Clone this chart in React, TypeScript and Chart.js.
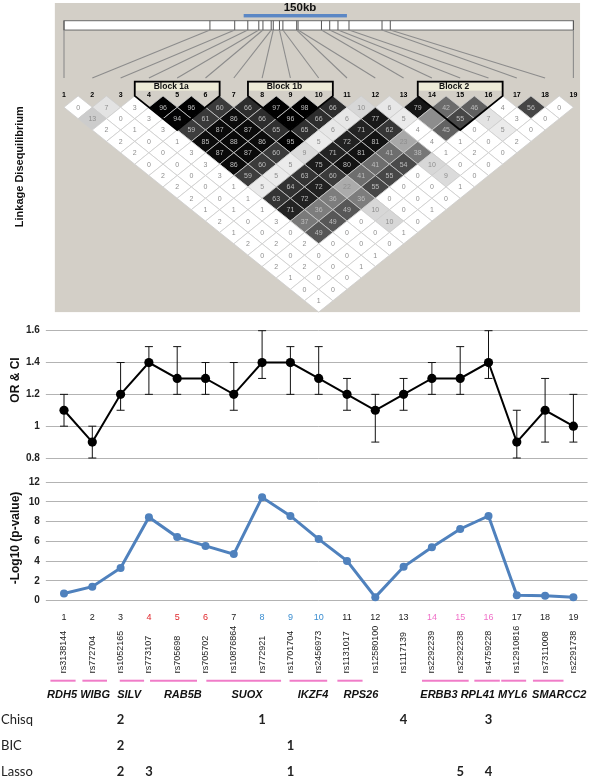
import React, { useEffect, useRef } from "react";
import { Chart, registerables } from "chart.js";
Chart.register(...registerables);

// ---------------- data ----------------
const snpLabels = ["1", "2", "3", "4", "5", "6", "7", "8", "9", "10", "11", "12", "13", "14", "15", "16", "17", "18", "19"];
const rsIds = ["rs3138144", "rs772704", "rs1052165", "rs773107", "rs705698", "rs705702", "rs10876864", "rs772921", "rs1701704", "rs2456973", "rs1131017", "rs12580100", "rs1117139", "rs2292239", "rs2292238", "rs4759228", "rs12910816", "rs7311008", "rs2291738"];

// physical marker positions (kb from SNP 1)
const markerKb = [0, 212, 248, 267, 283, 289, 301, 304, 313, 318, 338, 340, 374, 386, 398, 414, 462, 474, 740];
const scaleBarKb = [261, 411];
const scaleBarLabel = "150kb";

// LD values (r² x 100), one array per marker distance
const ldDist1 = [0, 7, 3, 96, 96, 60, 66, 97, 98, 66, 10, 6, 79, 42, 46, 4, 56, 0];
const ldDist2 = [13, 0, 3, 94, 61, 86, 66, 96, 66, 6, 77, 5, 31, 55, 7, 3, 0];
const ldDist3 = [2, 1, 3, 59, 87, 87, 65, 65, 6, 71, 62, 4, 45, 0, 5, 0];
const ldDist4 = [2, 0, 1, 85, 88, 86, 95, 5, 72, 81, 23, 4, 1, 0, 2];
const ldDist5 = [2, 0, 3, 87, 87, 60, 9, 71, 81, 41, 38, 1, 2, 0];
const ldDist6 = [0, 0, 3, 86, 60, 5, 75, 80, 41, 54, 10, 0, 0];
const ldDist7 = [2, 0, 3, 59, 5, 63, 60, 41, 55, 0, 9, 0];
const ldDist8 = [2, 0, 1, 5, 64, 72, 22, 55, 0, 0, 1];
const ldDist9 = [2, 0, 1, 63, 72, 36, 36, 0, 0, 0];
const ldDist10 = [1, 1, 1, 71, 36, 49, 10, 0, 1];
const ldDist11 = [2, 0, 3, 37, 49, 0, 10, 0];
const ldDist12 = [1, 0, 0, 49, 0, 0, 1];
const ldDist13 = [2, 2, 2, 0, 0, 0];
const ldDist14 = [0, 0, 0, 0, 1];
const ldDist15 = [2, 2, 0, 1];
const ldDist16 = [1, 0, 0];
const ldDist17 = [0, 0];
const ldDist18 = [1];
const ldRows = [ldDist1, ldDist2, ldDist3, ldDist4, ldDist5, ldDist6, ldDist7, ldDist8, ldDist9, ldDist10, ldDist11, ldDist12, ldDist13, ldDist14, ldDist15, ldDist16, ldDist17, ldDist18];

const blockNames = ["Block 1a", "Block 1b", "Block 2"];
const blockFirst = [4, 8, 14];
const blockLast = [6, 10, 16];

const orValues = [1.1, 0.9, 1.2, 1.4, 1.3, 1.3, 1.2, 1.4, 1.4, 1.3, 1.2, 1.1, 1.2, 1.3, 1.3, 1.4, 0.9, 1.1, 1.0];
const ciLower = [1.0, 0.8, 1.1, 1.2, 1.2, 1.2, 1.1, 1.3, 1.2, 1.2, 1.1, 0.9, 1.1, 1.2, 1.2, 1.3, 0.8, 0.9, 0.9];
const ciUpper = [1.2, 1.0, 1.4, 1.5, 1.5, 1.4, 1.4, 1.6, 1.5, 1.5, 1.3, 1.2, 1.3, 1.4, 1.5, 1.6, 1.1, 1.3, 1.2];

const negLog10P = [0.73, 1.42, 3.3, 8.44, 6.43, 5.54, 4.71, 10.45, 8.57, 6.23, 4.02, 0.36, 3.43, 5.41, 7.25, 8.57, 0.56, 0.49, 0.36];

const geneNames = ["RDH5", "WIBG", "SILV", "RAB5B", "SUOX", "IKZF4", "RPS26", "ERBB3", "RPL41", "MYL6", "SMARCC2"];
const geneFrom = [0.52, 1.65, 2.97, 4.04, 6.03, 8.97, 10.66, 13.65, 15.5, 16.45, 17.57];
const geneTo = [1.41, 2.52, 3.83, 5.7, 8.67, 10.3, 11.55, 15.3, 16.4, 17.33, 18.65];
const geneLabelAt = [0.93, 2.1, 3.3, 5.2, 7.47, 9.8, 11.49, 14.25, 15.62, 16.85, 18.5];

const methodNames = ["Chisq", "BIC", "Lasso"];
const chisqRank = [null, null, 2, null, null, null, null, 1, null, null, null, null, 4, null, null, 3, null, null, null];
const bicRank = [null, null, 2, null, null, null, null, null, 1, null, null, null, null, null, null, null, null, null, null];
const lassoRank = [null, null, 2, 3, null, null, null, null, 1, null, null, null, null, null, 5, 4, null, null, null];
const methodRanks = [chisqRank, bicRank, lassoRank];

// ---------------- styles ----------------
const FONT = '"Liberation Sans", Arial, Helvetica, sans-serif';
const TABLE_FONT = 'Lato, "Open Sans", sans-serif';
const blockColors = ["#e0262b", "#3a8dd0", "#f070c8"];
const PLOT_LEFT = 49.85;
const PLOT_RIGHT_PAD = 15.45;

function shadeFor(v: number) {
  if (v <= 4) return 255;
  return Math.round(255 * Math.pow(1 - v / 100, 1.6));
}

function tickColorFor(snp: number) {
  for (let b = 0; b < blockFirst.length; b++) {
    if (snp >= blockFirst[b] && snp <= blockLast[b]) return blockColors[b];
  }
  return "#222";
}

function drawVerticalTitle(ctx: any, text: string, x: number, y: number, size: number) {
  ctx.save();
  ctx.translate(x, y);
  ctx.rotate(-Math.PI / 2);
  ctx.fillStyle = "#111";
  ctx.font = `bold ${size}px ${FONT}`;
  ctx.textAlign = "center";
  ctx.textBaseline = "middle";
  ctx.fillText(text, 0, 0);
  ctx.restore();
}

function makeLD(canvas: HTMLCanvasElement) {
  const cells: any[] = [];
  ldRows.forEach((row, di) => {
    const d = di + 1;
    row.forEach((v, k) => {
      const i = k + 1;
      cells.push({ x: (i + i + d) / 2, y: d, v });
    });
  });
  const kbToSnp = (kb: number) => 1 + (kb / markerKb[markerKb.length - 1]) * (snpLabels.length - 1);

  const decor = {
    id: "ldDecor",
    beforeDatasetsDraw(chart: any) {
      const { ctx, chartArea: a, scales } = chart;
      const x = scales.x, y = scales.y;
      const px = (v: number) => x.getPixelForValue(v);
      const py = (v: number) => y.getPixelForValue(v);
      ctx.save();
      ctx.fillStyle = "#d3cfc7";
      ctx.fillRect(a.left + 5, 3, a.right - a.left - 12.5, a.bottom - 3);
      ctx.fillStyle = "#5b87c5";
      const sb0 = px(kbToSnp(scaleBarKb[0])), sb1 = px(kbToSnp(scaleBarKb[1]));
      ctx.fillRect(sb0, py(-7.05) - 1.7, sb1 - sb0, 3.4);
      ctx.fillStyle = "#111";
      ctx.font = `bold 11.5px ${FONT}`;
      ctx.textAlign = "center";
      ctx.textBaseline = "middle";
      ctx.fillText(scaleBarLabel, 300, py(-7.73));
      const bx0 = px(kbToSnp(markerKb[0])), bx1 = px(kbToSnp(markerKb[markerKb.length - 1]));
      const bt = py(-6.61), bb = py(-5.79);
      ctx.fillStyle = "#fff";
      ctx.fillRect(bx0, bt, bx1 - bx0, bb - bt);
      ctx.strokeStyle = "#6a6a6a";
      ctx.lineWidth = 1;
      ctx.strokeRect(bx0, bt, bx1 - bx0, bb - bt);
      ctx.strokeStyle = "#555";
      markerKb.forEach((kb) => {
        const mx = px(kbToSnp(kb));
        ctx.beginPath();
        ctx.moveTo(mx, bt);
        ctx.lineTo(mx, bb);
        ctx.stroke();
      });
      ctx.strokeStyle = "#8c8c8c";
      ctx.lineWidth = 1.1;
      markerKb.forEach((kb, i) => {
        ctx.beginPath();
        ctx.moveTo(px(kbToSnp(kb)), bb);
        ctx.lineTo(px(i + 1), py(-1.575));
        ctx.stroke();
      });
      drawVerticalTitle(ctx, "Linkage Disequilibrium", 20, 166.7, 11);
      ctx.restore();
    },
    afterDatasetsDraw(chart: any) {
      const { ctx, scales } = chart;
      const x = scales.x, y = scales.y;
      const px = (v: number) => x.getPixelForValue(v);
      const py = (v: number) => y.getPixelForValue(v);
      const meta = chart.getDatasetMeta(0);
      const raw = chart.data.datasets[0].data;
      const hw = (px(2) - px(1)) / 2;
      const hh = Math.abs(py(2) - py(1));
      ctx.save();
      ctx.textAlign = "center";
      ctx.textBaseline = "middle";
      ctx.font = `7px ${FONT}`;
      meta.data.forEach((el: any, idx: number) => {
        const cx = el.x, cy = el.y;
        const v = raw[idx].v;
        const g = shadeFor(v);
        ctx.beginPath();
        ctx.moveTo(cx, cy - hh);
        ctx.lineTo(cx + hw, cy);
        ctx.lineTo(cx, cy + hh);
        ctx.lineTo(cx - hw, cy);
        ctx.closePath();
        ctx.fillStyle = `rgb(${g},${g},${g})`;
        ctx.fill();
        ctx.strokeStyle = "#cdcdcd";
        ctx.lineWidth = 0.8;
        ctx.stroke();
        ctx.fillStyle = g < 140 ? "#bdbdbd" : "#8e8e8e";
        ctx.fillText(String(v), cx, cy + 0.5);
      });
      blockNames.forEach((name, b) => {
        const s = blockFirst[b], e = blockLast[b];
        const left = px(s - 0.5), right = px(e + 0.5);
        const top = py(-1.25);
        ctx.fillStyle = "#ecead6";
        ctx.fillRect(left + 1, top + 1, right - left - 2, py(-0.46) - top - 1);
        ctx.beginPath();
        ctx.moveTo(left, top);
        ctx.lineTo(right, top);
        ctx.lineTo(right, py(0));
        ctx.lineTo(px((s + e) / 2), py(e - s + 1));
        ctx.lineTo(left, py(0));
        ctx.closePath();
        ctx.strokeStyle = "#000";
        ctx.lineWidth = 1.8;
        ctx.stroke();
        ctx.fillStyle = "#111";
        ctx.font = `bold 8.5px ${FONT}`;
        ctx.fillText(name, px((s + e) / 2) - 6, py(-0.83));
      });
      ctx.fillStyle = "#000";
      ctx.font = `bold 7px ${FONT}`;
      snpLabels.forEach((lab, i) => ctx.fillText(lab, px(i + 1), py(-0.1)));
      ctx.restore();
    },
  };

  return new Chart(canvas, {
    type: "scatter",
    data: { datasets: [{ data: cells, pointRadius: 0, pointHoverRadius: 0, showLine: false }] },
    options: {
      responsive: false,
      animation: false,
      events: [],
      layout: { padding: { left: PLOT_LEFT, right: PLOT_RIGHT_PAD, top: 4.9, bottom: 1.9 } },
      plugins: { legend: { display: false }, tooltip: { enabled: false } },
      scales: {
        x: { type: "linear", min: 0.5, max: 19.5, display: false },
        y: { type: "linear", min: -8, max: 19, reverse: true, display: false },
      },
    },
    plugins: [decor],
  } as any);
}

function yAxis(min: number, max: number, step: number, fmt: (v: number) => string) {
  return {
    min,
    max,
    border: { display: false },
    grid: { color: "#b3b3b3", lineWidth: 1, drawTicks: true, tickLength: 4, tickColor: "#b3b3b3" },
    ticks: { stepSize: step, padding: 6, color: "#222", font: { family: FONT, size: 10, weight: "bold" }, callback: (v: any) => fmt(Number(v)) },
    afterFit: (s: any) => {
      s.width = PLOT_LEFT;
    },
  };
}

function makeOR(canvas: HTMLCanvasElement) {
  const errorBars = {
    id: "errorBars",
    beforeDatasetsDraw(chart: any) {
      const { ctx, scales } = chart;
      const x = scales.x, y = scales.y;
      ctx.save();
      ctx.strokeStyle = "#111";
      ctx.lineWidth = 1;
      orValues.forEach((_, i) => {
        const cx = x.getPixelForValue(i);
        const lo = y.getPixelForValue(ciLower[i]);
        const hi = y.getPixelForValue(ciUpper[i]);
        ctx.beginPath();
        ctx.moveTo(cx, lo);
        ctx.lineTo(cx, hi);
        ctx.moveTo(cx - 4, lo);
        ctx.lineTo(cx + 4, lo);
        ctx.moveTo(cx - 4, hi);
        ctx.lineTo(cx + 4, hi);
        ctx.stroke();
      });
      ctx.restore();
    },
    afterDraw(chart: any) {
      drawVerticalTitle(chart.ctx, "OR & CI", 16, 380 - 314, 12);
    },
  };
  return new Chart(canvas, {
    type: "line",
    data: {
      labels: snpLabels,
      datasets: [
        {
          data: orValues,
          borderColor: "#000",
          backgroundColor: "#000",
          borderWidth: 2,
          pointRadius: 4.6,
          pointBorderWidth: 0,
          pointBackgroundColor: "#000",
          tension: 0,
          clip: false,
        },
      ],
    },
    options: {
      responsive: false,
      animation: false,
      events: [],
      layout: { padding: { left: 0, right: PLOT_RIGHT_PAD, top: 16.7, bottom: 7.7 } },
      plugins: { legend: { display: false }, tooltip: { enabled: false } },
      scales: {
        x: { display: false, offset: true },
        y: yAxis(0.8, 1.6, 0.2, (v) => String(Math.round(v * 10) / 10)),
      },
    },
    plugins: [errorBars],
  } as any);
}

function makeP(canvas: HTMLCanvasElement) {
  const annot = {
    id: "annot",
    afterDraw(chart: any) {
      const { ctx, chartArea: a, scales } = chart;
      const x = scales.x;
      const sx = (snp: number) => x.getPixelForValue(snp - 1);
      drawVerticalTitle(ctx, "-Log10 (p-value)", 16, 538 - 470, 12);
      ctx.save();
      ctx.font = `9px ${FONT}`;
      ctx.fillStyle = "#222";
      ctx.textAlign = "left";
      ctx.textBaseline = "middle";
      rsIds.forEach((id, i) => {
        ctx.save();
        ctx.translate(sx(i + 1), a.bottom + 72.5);
        ctx.rotate(-Math.PI / 2);
        ctx.fillText(id, 0, 0);
        ctx.restore();
      });
      ctx.strokeStyle = "#f07cc8";
      ctx.lineWidth = 2;
      geneNames.forEach((g, i) => {
        ctx.beginPath();
        ctx.moveTo(sx(geneFrom[i]), a.bottom + 80);
        ctx.lineTo(sx(geneTo[i]), a.bottom + 80);
        ctx.stroke();
      });
      ctx.fillStyle = "#111";
      ctx.font = `italic bold 11px ${FONT}`;
      ctx.textAlign = "center";
      geneNames.forEach((g, i) => ctx.fillText(g, sx(geneLabelAt[i]), a.bottom + 94.5));
      const rowY = [a.bottom + 119.5, a.bottom + 145.5, a.bottom + 171.3];
      methodNames.forEach((m, r) => {
        ctx.textAlign = "left";
        ctx.fillStyle = "#222";
        ctx.font = `13px ${TABLE_FONT}`;
        ctx.fillText(m, 1, rowY[r]);
        ctx.textAlign = "center";
        ctx.font = `bold 13px ${TABLE_FONT}`;
        methodRanks[r].forEach((rank, i) => {
          if (rank != null) ctx.fillText(String(rank), sx(i + 1), rowY[r]);
        });
      });
      ctx.restore();
    },
  };
  return new Chart(canvas, {
    type: "line",
    data: {
      labels: snpLabels,
      datasets: [
        {
          data: negLog10P,
          borderColor: "#4f81bd",
          backgroundColor: "#4f81bd",
          borderWidth: 3,
          pointRadius: 4,
          pointBorderWidth: 0,
          pointBackgroundColor: "#4f81bd",
          tension: 0,
          clip: false,
        },
      ],
    },
    options: {
      responsive: false,
      animation: false,
      events: [],
      layout: { padding: { left: 0, right: PLOT_RIGHT_PAD, top: 9.3, bottom: 159.3 } },
      plugins: { legend: { display: false }, tooltip: { enabled: false } },
      scales: {
        x: {
          offset: true,
          grid: { display: false },
          border: { display: false },
          ticks: {
            padding: 3,
            autoSkip: false,
            maxRotation: 0,
            font: { family: FONT, size: 9 },
            color: (c: any) => tickColorFor(c.index + 1),
          },
          afterFit: (s: any) => {
            s.height = 20;
          },
        },
        y: yAxis(0, 12, 2, (v) => String(v)),
      },
    },
    plugins: [annot],
  } as any);
}

export default function App() {
  const ldRef = useRef<HTMLCanvasElement>(null);
  const orRef = useRef<HTMLCanvasElement>(null);
  const pRef = useRef<HTMLCanvasElement>(null);
  useEffect(() => {
    const charts = [makeLD(ldRef.current!), makeOR(orRef.current!), makeP(pRef.current!)];
    return () => charts.forEach((c) => c.destroy());
  }, []);
  return (
    <div style={{ position: "absolute", left: 0, top: 0, width: 603, height: 780, background: "#fff" }}>
      <canvas ref={ldRef} width={603} height={314} style={{ position: "absolute", left: 0, top: 0 }} />
      <canvas ref={orRef} width={603} height={156} style={{ position: "absolute", left: 0, top: 314 }} />
      <canvas ref={pRef} width={603} height={310} style={{ position: "absolute", left: 0, top: 470 }} />
    </div>
  );
}
